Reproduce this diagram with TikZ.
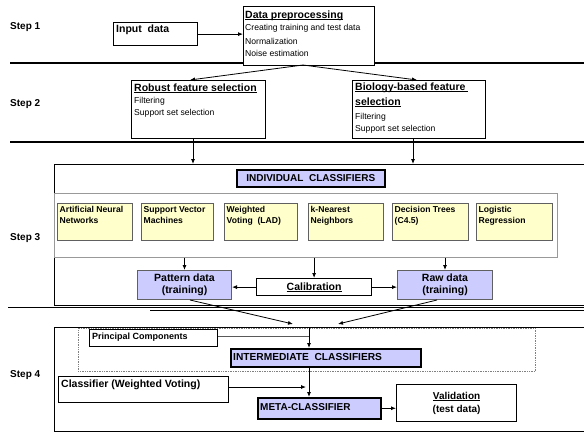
\documentclass[tikz,border=0pt]{standalone}
\usepackage{fontspec}
\setmainfont{Liberation Sans}
\usetikzlibrary{arrows.meta}
\definecolor{lav}{HTML}{CCCCFF}
\definecolor{ylw}{HTML}{FFFFCC}
\definecolor{gbord}{HTML}{606060}
\newcommand{\ulx}[1]{\setbox0\hbox{#1}\rlap{\rule[-1.6pt]{\wd0}{0.8pt}}\box0}
\newcommand{\rbox}[7]{\node[#2, anchor=north west, minimum width={(#5)-(#3)}, minimum height={(#6)-(#4)}] (#1) at (#3,#4) {#7};}
\begin{document}
\begin{tikzpicture}[x=1pt,y=-1pt,
  wbox/.style={draw=black, line width=1.2pt, fill=white, inner sep=0pt},
  frame/.style={draw=black, line width=1pt, inner sep=0pt},
  grp/.style={draw=gray!80, line width=0.9pt, inner sep=0pt},
  dotbox/.style={draw=gray, densely dotted, line width=0.7pt, inner sep=0pt},
  lbox/.style={draw=black, line width=1.5pt, fill=lav, inner sep=0pt},
  dbox/.style={draw=gbord, line width=1pt, fill=lav, inner sep=0pt, align=center, font=\bfseries\fontsize{10.5}{12.5}\selectfont},
  ybox/.style={draw=gbord, line width=1pt, fill=ylw, inner sep=0pt},
  sepline/.style={line width=2.2pt},
  stepl/.style={font=\bfseries\fontsize{10}{12}\selectfont, anchor=west, inner sep=0pt},
  ttl/.style={font=\bfseries\fontsize{10.5}{12}\selectfont, anchor=west, inner sep=0pt},
  reg/.style={font=\fontsize{8.6}{10}\selectfont, anchor=west, inner sep=0pt},
  cls/.style={font=\bfseries\fontsize{8.6}{11.3}\selectfont, align=left, anchor=north west, inner sep=0pt},
  arr/.style={-{Latex[length=5pt,width=4pt]}, line width=0.8pt},
  ln/.style={line width=0.8pt}
]
\useasboundingbox (0,0) rectangle (584,432);
\clip (0,0) rectangle (584,432);

% separators
\draw[sepline] (10,63) -- (584,63);
\draw[sepline] (10,142) -- (584,142);
\draw[line width=1.6pt] (8,307.5) -- (584,307.5);
\draw[line width=1pt] (150,310.5) -- (584,310.5);

% step labels
\node[stepl] (s1) at (10,27) {Step 1};
\node[stepl] (s2) at (10,104) {Step 2};
\node[stepl] (s3) at (10,238) {Step 3};
\node[stepl] (s4) at (10,375) {Step 4};

% Step 1
\rbox{input}{wbox}{113}{22}{197}{45}{}
\node[ttl, anchor=north west] (inputt) at (116,25) {Input\ \ data};
\rbox{prep}{wbox}{243}{6}{374}{65}{}
\node[ttl] (prept) at (245,16) {\ulx{Data preprocessing}};
\node[reg] (prep1) at (245,28.5) {Creating training and test data};
\node[reg] (prep2) at (245,41) {Normalization};
\node[reg] (prep3) at (245,53.5) {Noise estimation};

% Step 2
\rbox{rob}{wbox}{131}{80}{265}{138}{}
\node[ttl] (robt) at (134,88) {\ulx{Robust feature selection}};
\node[reg] (rob1) at (134,101) {Filtering};
\node[reg] (rob2) at (134,113) {Support set selection};
\rbox{bio}{wbox}{352}{80}{485}{138}{}
\node[ttl] (biot1) at (355,88) {\ulx{Biology-based feature\ }};
\node[ttl] (biot2) at (355,102) {\ulx{selection}};
\node[reg] (bio1) at (355,117) {Filtering};
\node[reg] (bio2) at (355,129) {Support set selection};

% Step 3
\rbox{st3}{frame}{54}{164}{592}{305}{}
\rbox{grp}{grp}{54}{193}{557}{257}{}
\rbox{indiv}{lbox}{236}{169}{384}{186}{\bfseries\fontsize{10}{12}\selectfont INDIVIDUAL\ \ CLASSIFIERS}
\rbox{c1}{ybox}{57}{203}{132}{240}{}
\rbox{c2}{ybox}{141}{203}{213}{240}{}
\rbox{c3}{ybox}{224}{203}{297}{240}{}
\rbox{c4}{ybox}{308}{203}{383}{240}{}
\rbox{c5}{ybox}{392}{203}{468}{240}{}
\rbox{c6}{ybox}{476}{203}{552}{240}{}
\node[cls] (c1t) at (59.5,206) {Artificial Neural\\Networks};
\node[cls] (c2t) at (143.5,206) {Support Vector\\Machines};
\node[cls] (c3t) at (226.5,206) {Weighted\\Voting\ \ (LAD)};
\node[cls] (c4t) at (310.5,206) {k-Nearest\\Neighbors};
\node[cls] (c5t) at (394.5,206) {Decision Trees\\(C4.5)};
\node[cls] (c6t) at (478.5,206) {Logistic\\Regression};

\rbox{pat}{dbox}{137}{270}{231}{299}{Pattern data\\(training)}
\rbox{cal}{wbox}{256}{278}{371}{295}{\bfseries\fontsize{10.5}{12}\selectfont\ulx{Calibration}}
\rbox{raw}{dbox}{397}{270}{492}{299}{Raw data\\(training)}

% Step 4
\rbox{st4}{frame}{54}{327}{592}{431}{}
\rbox{dot}{dotbox}{78}{328}{535}{371}{}
\rbox{pc}{wbox}{89}{329}{217}{346}{}
\node[ttl, font=\bfseries\fontsize{9}{11}\selectfont] (pct) at (92,337.5) {Principal Components};
\rbox{inter}{lbox}{230}{348}{420}{366}{}
\node[ttl, font=\bfseries\fontsize{10.2}{12}\selectfont] (intert) at (233,357) {INTERMEDIATE\ \ CLASSIFIERS};
\rbox{cwv}{wbox}{58}{376}{228}{402}{}
\node[ttl, anchor=north west] (cwvt) at (61,380) {Classifier (Weighted Voting)};
\rbox{meta}{lbox}{257}{397}{380}{418}{}
\node[ttl, font=\bfseries\fontsize{10}{12}\selectfont] (metat) at (260,407.5) {META-CLASSIFIER};
\rbox{val}{wbox}{396}{384}{516}{421}{\begin{tabular}{@{}c@{}}\bfseries\fontsize{10}{12}\selectfont\ulx{Validation}\\[1pt]\bfseries\fontsize{10}{12}\selectfont(test data)\end{tabular}}

% connectors
\draw[arr] (input.east) -- (prep.west |- input.east);
\coordinate (pb) at (303,65);
\draw[arr] (pb) -- (rob.north -| 190,0);
\draw[arr] (pb) -- (bio.north -| 417,0);
\draw[arr] (rob.south -| 193,0) -- (st3.north -| 193,0);
\draw[arr] (bio.south -| 413,0) -- (st3.north -| 413,0);
\draw[arr] (grp.south -| pat.north) -- (pat.north);
\draw[arr] (grp.south -| cal.north) -- (cal.north);
\draw[arr] (grp.south -| raw.north) -- (raw.north);
\draw[arr] (cal.west) -- (cal.west -| pat.east);
\draw[arr] (cal.east) -- (cal.east -| raw.west);
\coordinate (m1) at (293,324);
\coordinate (m2) at (338,324);
\draw[arr] (pat.south -| 190,0) -- (m1);
\draw[arr] (raw.south -| 437,0) -- (m2);
\coordinate (join) at (309,336);
\coordinate (jtop) at (309,327);
\draw[ln, draw=gray!70!black] (pc.east |- join) -- (join);
\draw[arr] (jtop) -- (inter.north -| jtop);
\draw[arr] (inter.south -| jtop) -- (meta.north -| jtop);
\draw[arr] (cwv.east |- 0,387) -- (306,387);
\draw[arr] (meta.east) -- (meta.east -| val.west);
\end{tikzpicture}
\end{document}
